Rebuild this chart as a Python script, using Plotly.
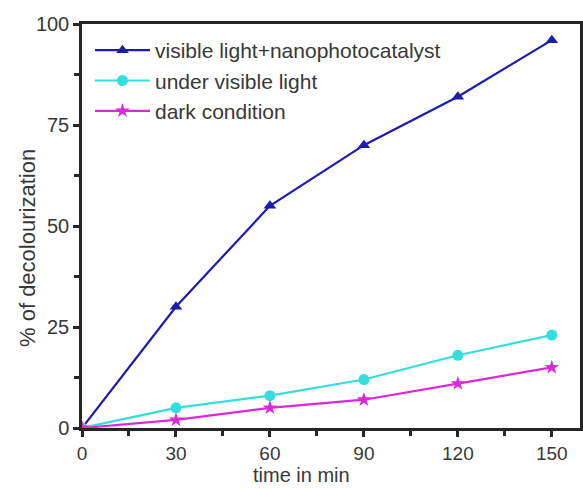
import plotly.graph_objects as go

time_min = [0, 30, 60, 90, 120, 150]
vis_nano = [0, 30, 55, 70, 82, 96]
vis_only = [0, 5, 8, 12, 18, 23]
dark = [0, 2, 5, 7, 11, 15]
names = ["visible light+nanophotocatalyst", "under visible light", "dark condition"]
colors = ["#1c1cae", "#35dede", "#dc28d8"]
symbols = ["triangle-up", "circle", "star"]
x_ticks = [0, 30, 60, 90, 120, 150]
y_ticks = [0, 25, 50, 75, 100]

FONT = "Liberation Sans, Arial, sans-serif"
TXT = "#383838"

fig = go.Figure()
for ys, n, c, s in zip([vis_nano, vis_only, dark], names, colors, symbols):
    fig.add_trace(go.Scatter(x=time_min, y=ys, name=n, mode="lines+markers",
                             line=dict(color=c, width=2.2),
                             marker=dict(symbol=s, size=11, color=c)))

axis_common = dict(showline=True, linecolor="#262626", linewidth=2.5, mirror=True,
                   ticks="outside", ticklen=6, tickwidth=2.5, tickcolor="#262626",
                   showgrid=False, zeroline=False, automargin=False,
                   minor=dict(ticks="outside", ticklen=5, tickwidth=2.5, tickcolor="#262626"))

fig.update_layout(
    width=583, height=489,
    margin=dict(l=82, r=3, t=24, b=61, autoexpand=False),
    paper_bgcolor="white", plot_bgcolor="white",
    font=dict(family=FONT, color=TXT),
    xaxis=dict(range=[0, 159], tickvals=x_ticks,
               tickfont=dict(family=FONT, size=19, color=TXT), **axis_common),
    yaxis=dict(range=[0, 100], tickvals=y_ticks,
               tickfont=dict(family=FONT, size=20, color=TXT), **axis_common),
    legend=dict(x=0.016, y=0.985, xanchor="left", yanchor="top",
                bgcolor="rgba(0,0,0,0)", font=dict(family=FONT, size=21, color=TXT),
                tracegroupgap=0, itemwidth=55),
    showlegend=True,
)
fig.update_xaxes(minor=dict(tickvals=[15, 45, 75, 105, 135]))
fig.update_yaxes(minor=dict(tickvals=[12.5, 37.5, 62.5, 87.5]))

fig.add_annotation(text="time in min", xref="paper", yref="paper",
                   x=(301 - 82) / (580 - 82), y=-(463 - 428) / (428 - 24),
                   xanchor="center", yanchor="top", showarrow=False, borderpad=0,
                   font=dict(family=FONT, size=20, color=TXT))
fig.add_annotation(text="% of decolourization", xref="paper", yref="paper",
                   x=-(82 - 27) / (580 - 82), y=(428 - 248) / (428 - 24),
                   xanchor="center", yanchor="middle", textangle=-90, showarrow=False,
                   font=dict(family=FONT, size=22, color=TXT))

fig.write_html("out.html", config={"displayModeBar": False},
               post_script="document.body.style.margin='0';document.body.style.overflow='hidden';")
